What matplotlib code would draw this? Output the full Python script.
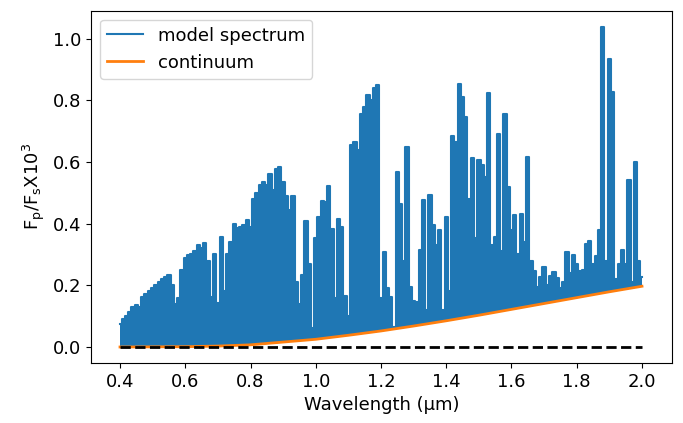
import matplotlib
matplotlib.use("Agg")
import matplotlib.pyplot as plt
import numpy as np

# wavelength grid (um) for the upper envelope of the model spectrum
wl = np.round(np.arange(0.40, 2.001, 0.01), 2)

# peak flux (Fp/Fs x 1e3), one value per 0.01 um
flux = [
    0.075, 0.09, 0.10, 0.115, 0.13, 0.135, 0.13, 0.163, 0.172, 0.18,   # 0.40-0.49
    0.19, 0.20, 0.21, 0.22, 0.228, 0.235, 0.20, 0.14, 0.16, 0.25,      # 0.50-0.59
    0.29, 0.298, 0.30, 0.31, 0.33, 0.32, 0.336, 0.28, 0.163, 0.30,     # 0.60-0.69
    0.142, 0.357, 0.18, 0.30, 0.34, 0.40, 0.387, 0.39, 0.396, 0.411,   # 0.70-0.79
    0.39, 0.48, 0.50, 0.524, 0.535, 0.525, 0.562, 0.51, 0.578, 0.584,  # 0.80-0.89
    0.535, 0.49, 0.443, 0.49, 0.21, 0.14, 0.233, 0.409, 0.27, 0.06,    # 0.90-0.99
    0.352, 0.422, 0.474, 0.47, 0.522, 0.384, 0.158, 0.416, 0.39, 0.166,  # 1.00-1.09
    0.10, 0.654, 0.664, 0.638, 0.756, 0.778, 0.816, 0.80, 0.84, 0.85,  # 1.10-1.19
    0.16, 0.308, 0.19, 0.163, 0.066, 0.567, 0.465, 0.28, 0.648, 0.193,  # 1.20-1.29
    0.15, 0.145, 0.314, 0.476, 0.12, 0.492, 0.395, 0.33, 0.379, 0.12,  # 1.30-1.39
    0.422, 0.18, 0.683, 0.665, 0.853, 0.81, 0.745, 0.48, 0.614, 0.352,  # 1.40-1.49
    0.605, 0.59, 0.551, 0.823, 0.33, 0.357, 0.689, 0.31, 0.756, 0.519,  # 1.50-1.59
    0.379, 0.427, 0.30, 0.43, 0.34, 0.616, 0.28, 0.245, 0.195, 0.228,  # 1.60-1.69
    0.258, 0.20, 0.23, 0.242, 0.225, 0.19, 0.21, 0.308, 0.24, 0.298,   # 1.70-1.79
    0.27, 0.248, 0.25, 0.333, 0.345, 0.27, 0.295, 0.379, 1.039, 0.28,  # 1.80-1.89
    0.934, 0.826, 0.22, 0.27, 0.314, 0.27, 0.54, 0.21, 0.60, 0.28,     # 1.90-1.99
    0.228,                                                             # 2.00
]

# continuum, read at 0.1 um steps
cont_wl = [0.4, 0.5, 0.6, 0.7, 0.8, 0.9, 1.0, 1.1, 1.2, 1.3, 1.4,
           1.5, 1.6, 1.7, 1.8, 1.9, 2.0]
cont = [0.0, 0.0005, 0.001, 0.003, 0.007, 0.016, 0.025, 0.038, 0.052,
        0.068, 0.085, 0.103, 0.122, 0.141, 0.160, 0.179, 0.197]

blue = "#1f77b4"
orange = "#ff7f0e"

plt.rcParams["font.size"] = 13

fig = plt.figure(figsize=(6.83, 4.23), dpi=100)
ax = fig.add_axes([0.1332, 0.1418, 0.8507, 0.8333])

ax.fill_between(wl, 0, flux, step="mid", color=blue, lw=0)
ax.plot(wl, flux, drawstyle="steps-mid", color=blue, lw=1.5, label="model spectrum")
# below the continuum the plot is empty
ax.fill_between(cont_wl, 0, cont, color="white", lw=0)
ax.plot(cont_wl, cont, color=orange, lw=2, label="continuum")
ax.plot([wl[0], wl[-1]], [0, 0], "k--", lw=2)

ax.set_xlim(0.311, 2.092)
ax.set_xlabel("Wavelength (\u03bcm)")
ax.set_ylabel("F$_\\mathrm{p}$/F$_\\mathrm{s}$X10$^3$")
ax.legend(loc="upper left")

fig.savefig("out.png", dpi=100)
